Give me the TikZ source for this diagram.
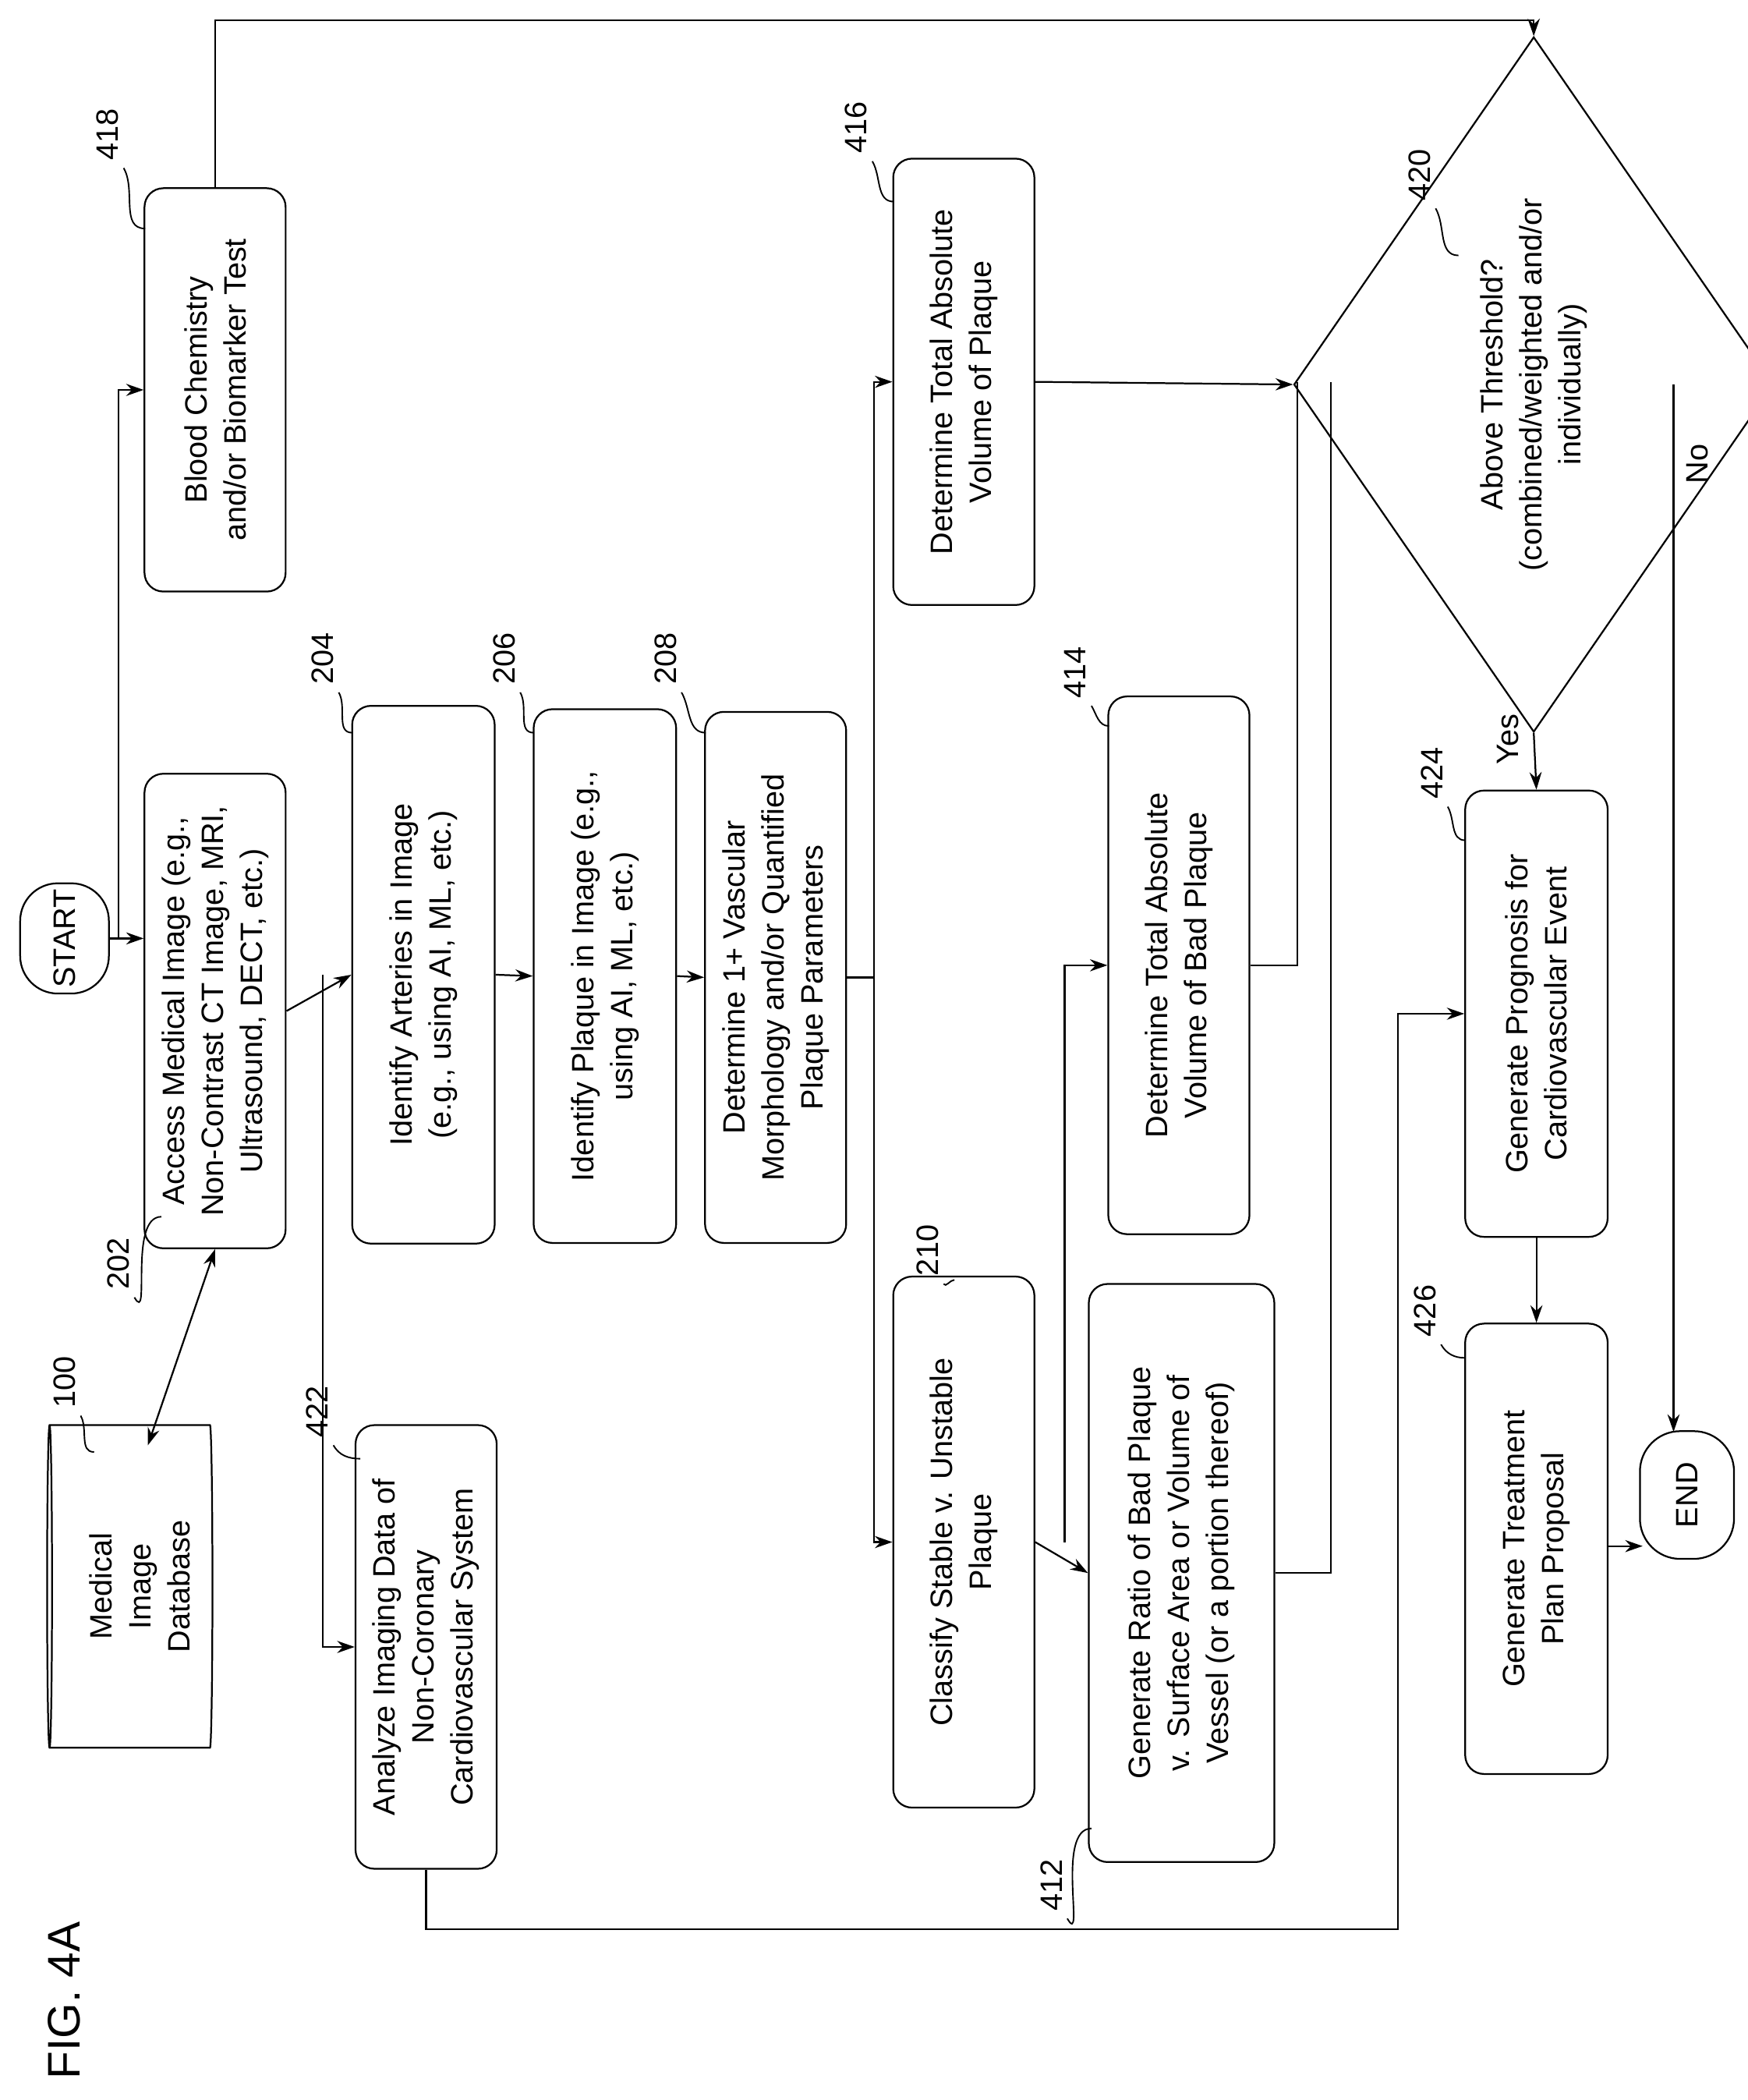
\documentclass[tikz,border=0pt]{standalone}
\usepackage{fontspec}
\setmainfont{Liberation Sans}
\usetikzlibrary{shapes.geometric,arrows.meta}
\begin{document}
\begin{tikzpicture}[x=1pt,y=-1pt,
 every node/.style={font=\fontsize{23}{29}\selectfont},
 box/.style={draw,line width=1.3pt,rounded corners=14pt,rotate=90,align=center,inner sep=2pt},
 lab/.style={rotate=90,font=\fontsize{23}{29}\selectfont},
 ln/.style={line width=1.3pt},
 ar/.style={line width=1.3pt,-{Stealth[length=13pt,width=9pt]}}]
\useasboundingbox (0,0) rectangle (1300,1562);
% nodes
\node[box,rounded corners=28pt,minimum width=82,minimum height=66] (start) at (48,698) {START};
\node[draw,line width=1.3pt,cylinder,shape border rotate=180,aspect=0.55,minimum width=240,minimum height=123] (db) at (98,1180) {};
\node[lab,align=center] at (104,1180) {Medical\\Image\\Database};
\node[box,minimum width=353,minimum height=105] (n202) at (160,752) {Access Medical Image (e.g.,\\Non-Contrast CT Image, MRI,\\Ultrasound, DECT, etc.)};
\node[box,minimum width=300,minimum height=105] (n418) at (160,290) {Blood Chemistry\\and/or Biomarker Test};
\node[box,minimum width=400,minimum height=106] (n204) at (315,725) {Identify Arteries in Image\\(e.g., using AI, ML, etc.)};
\node[box,minimum width=397,minimum height=106] (n206) at (450,726) {Identify Plaque in Image (e.g.,\\using AI, ML, etc.)};
\node[box,minimum width=395,minimum height=105] (n208) at (577,727) {Determine 1+ Vascular\\Morphology and/or Quantified\\Plaque Parameters};
\node[box,minimum width=330,minimum height=105] (n422) at (317,1225) {Analyze Imaging Data of\\Non-Coronary\\Cardiovascular System};
\node[box,minimum width=395,minimum height=105] (n210) at (717,1147) {Classify Stable v. Unstable\\Plaque};
\node[box,minimum width=430,minimum height=138] (n412) at (879,1170) {Generate Ratio of Bad Plaque\\v. Surface Area or Volume of\\Vessel (or a portion thereof)};
\node[box,minimum width=400,minimum height=105] (n414) at (877,718) {Determine Total Absolute\\Volume of Bad Plaque};
\node[box,minimum width=332,minimum height=105] (n416) at (717,284) {Determine Total Absolute\\Volume of Plaque};
\node[draw,line width=1.3pt,diamond,rotate=90,align=center,minimum width=517,minimum height=207,inner sep=0pt] (n420) at (1141,286) {Above Threshold?\\(combined/weighted and/or\\individually)};
\node[box,minimum width=332,minimum height=106] (n424) at (1143,754) {Generate Prognosis for\\Cardiovascular Event};
\node[box,minimum width=335,minimum height=106] (n426) at (1143,1152) {Generate Treatment\\Plan Proposal};
\node[box,rounded corners=30pt,minimum width=95,minimum height=70] (end) at (1255,1112) {END};
\node[lab,font=\fontsize{34}{40}\selectfont] (fig) at (48,1488) {FIG. 4A};
% connectors
\draw[ar] (start.south) -- (start.south -| n202.north);
\coordinate (j1) at (88,698);
\draw[ar] (j1) |- (n418.north);
\draw[ar,{Stealth[length=13pt,width=9pt]}-{Stealth[length=13pt,width=9pt]}] (110,1075) -- (n202.west);
\draw[ar] (n202.south) -- (n204.north);
\coordinate (j2) at (240,725);
\draw[ar] (j2) |- (n422.north);
\draw[ar] (n204.south) -- (n206.north);
\draw[ar] (n206.south) -- (n208.north);
\coordinate (j3) at (650,727);
\draw[ln] (n208.south) -- (j3);
\draw[ar] (j3) |- (n416.north);
\draw[ar] (j3) |- (n210.north);
\draw[ar] (n210.south) -- (n412.north);
\coordinate (j4) at (792,1147);
\draw[ar] (j4) |- (n414.north);
\draw[ar] (n416.south) -- (n420.north);
\coordinate (j5) at (965,284);
\coordinate (j6) at (990,284);
\draw[ln] (n414.south) -| (j5);
\draw[ln] (n412.south) -| (j6);
\coordinate (t1) at (160,15);
\draw[ar] (n418.east) -- (t1) -| (n420.east);
\coordinate (b1) at (317,1435);
\coordinate (b2) at (1040,1435);
\draw[ar] (n422.west) -- (b1) -- (b2) |- (n424.north);
\draw[ar] (n420.west) -- (n424.east);
\node[lab] at (1122,550) {Yes};
\coordinate (nn) at (1245,286);
\draw[ar] (nn) -- (1245,1065);
\node[lab] at (1263,345) {No};
\draw[ar] (n424.west) -- (n426.east);
\draw[ar] (n426.south |- 0,1150) -- (1222,1150);
% reference labels
\foreach \t/\x/\y/\ex/\ey in {418/80/100/108/170, 416/637/95/665/150, 420/1056/130/1085/190, 204/240/490/262/545, 206/375/490/397/545, 208/495/490/525/545, 414/800/500/825/540, 424/1065/575/1090/625, 426/1060/975/1090/1010, 210/690/930/710/952, 202/88/940/120/905, 100/48/1028/70/1080, 422/236/1050/268/1085, 412/782/1402/812/1360}{
 \node[lab] (L\t) at (\x,\y) {\t};
 \draw[line width=1.1pt] (\x+12,\y+25) to[out=-60,in=180] (\ex,\ey);
}
\end{tikzpicture}
\end{document}
